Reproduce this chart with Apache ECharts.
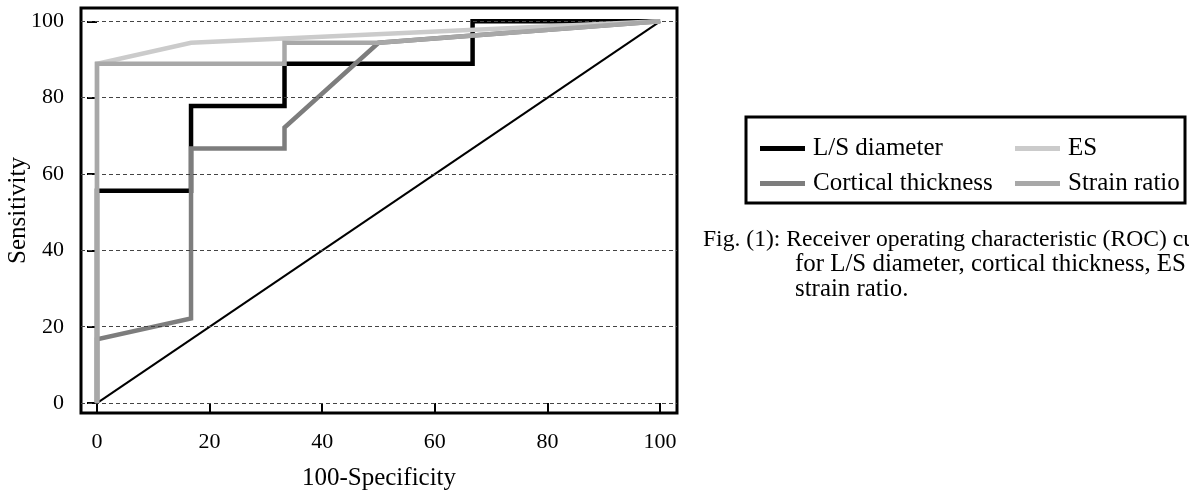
<!DOCTYPE html>
<html>
<head>
<meta charset="utf-8">
<script src="https://cdn.jsdelivr.net/npm/echarts@6/dist/echarts.min.js"></script>
<style>
html,body{margin:0;padding:0;background:#fff;}
#chart{width:1189px;height:493px;}
</style>
</head>
<body>
<div id="chart"></div>
<script>
// ---- data ----
const xTicks = [0, 20, 40, 60, 80, 100];
const yTicks = [0, 20, 40, 60, 80, 100];
const seriesNames = ['L/S diameter', 'Cortical thickness', 'ES', 'Strain ratio'];
const lsDiameter = [[0,0],[0,55.6],[16.7,55.6],[16.7,77.8],[33.3,77.8],[33.3,88.9],[66.7,88.9],[66.7,100],[100,100]];
const corticalThickness = [[0,0],[0,16.7],[16.7,22.2],[16.7,66.7],[33.3,66.7],[33.3,72.2],[50,94.4],[100,100]];
const esValues = [[0,0],[0,88.9],[16.7,94.4],[100,100]];
const strainRatio = [[0,0],[0,88.9],[33.3,88.9],[33.3,94.4],[50,94.4],[100,100]];
const referenceLine = [[0,0],[100,100]];
const xTitle = '100-Specificity';
const yTitle = 'Sensitivity';
const captionLines = [
  'Fig. (1): Receiver operating characteristic (ROC) curves',
  'for L/S diameter, cortical thickness, ES and',
  'strain ratio.'
];

const FONT = '"Liberation Serif", "Times New Roman", serif';
const colors = {
  'L/S diameter': '#000000',
  'Cortical thickness': '#7d7d7d',
  'ES': '#cbcbcb',
  'Strain ratio': '#a8a8a8'
};

const chart = echarts.init(document.getElementById('chart'), null, {renderer: 'canvas'});

function lineSeries(name, data, z) {
  return {
    name: name, type: 'line', data: data, showSymbol: false, symbol: 'none',
    lineStyle: {color: colors[name], width: 4.5, join: 'miter'},
    itemStyle: {color: colors[name]},
    z: z, animation: false
  };
}

const legendCommon = {
  orient: 'vertical', icon: 'rect', itemWidth: 45, itemHeight: 5, itemGap: 10,
  textStyle: {fontFamily: FONT, fontSize: 25, color: '#000', padding: [0,0,0,3]},
  selectedMode: false
};

const option = {
  backgroundColor: '#fff',
  animation: false,
  grid: {
    left: 81, right: 512, top: 8, bottom: 80,
    show: true, borderColor: '#000', borderWidth: 3, backgroundColor: 'transparent',
    containLabel: false, outerBoundsMode: 'none'
  },
  xAxis: {
    type: 'value', min: -2.84, max: 103,
    name: xTitle, nameLocation: 'middle', nameGap: 53, nameMoveOverlap: false,
    nameTextStyle: {fontFamily: FONT, fontSize: 25, color: '#000'},
    axisLine: {show: false},
    axisTick: {show: true, inside: false, length: 10, customValues: xTicks, lineStyle: {color: '#000', width: 2}},
    axisLabel: {customValues: xTicks, fontFamily: FONT, fontSize: 22, color: '#000', margin: 18},
    splitLine: {show: false}
  },
  yAxis: {
    type: 'value', min: -2.6, max: 103.5,
    name: yTitle, nameLocation: 'middle', nameGap: 50, nameMoveOverlap: false,
    nameTextStyle: {fontFamily: FONT, fontSize: 25, color: '#000'},
    axisLine: {show: false},
    axisTick: {show: true, inside: false, length: 10, customValues: yTicks, lineStyle: {color: '#000', width: 2}},
    axisLabel: {customValues: yTicks, fontFamily: FONT, fontSize: 22, color: '#000', margin: 17},
    splitLine: {show: false}
  },
  legend: [
    Object.assign({}, legendCommon, {data: [seriesNames[0], seriesNames[1]], left: 755, top: 131}),
    Object.assign({}, legendCommon, {data: [seriesNames[2], seriesNames[3]], left: 1010, top: 131})
  ],
  graphic: [
    {type: 'rect', shape: {x: 746, y: 117, width: 439, height: 86},
     style: {fill: 'none', stroke: '#000', lineWidth: 3}, z: 10},
    {type: 'text', left: 703, top: 240 - 12, style: {text: captionLines[0], font: '23.6px ' + FONT, fill: '#000'}},
    {type: 'text', left: 795, top: 264 - 12, style: {text: captionLines[1], font: '24.9px ' + FONT, fill: '#000'}},
    {type: 'text', left: 795, top: 289 - 12, style: {text: captionLines[2], font: '24.9px ' + FONT, fill: '#000'}}
  ],
  series: [
    {
      name: 'gridlines', type: 'line', data: [], z: 1, silent: true,
      markLine: {
        silent: true, symbol: ['none', 'none'], label: {show: false},
        lineStyle: {color: '#444', width: 1, type: [4, 3]},
        animation: false,
        data: yTicks.map(v => ({yAxis: v}))
      }
    },
    {
      name: 'reference', type: 'line', data: referenceLine, showSymbol: false, symbol: 'none',
      lineStyle: {color: '#000', width: 2}, z: 2, silent: true
    },
    lineSeries('L/S diameter', lsDiameter, 3),
    lineSeries('Cortical thickness', corticalThickness, 4),
    lineSeries('ES', esValues, 5),
    lineSeries('Strain ratio', strainRatio, 6)
  ]
};
chart.setOption(option);
</script>
</body>
</html>
